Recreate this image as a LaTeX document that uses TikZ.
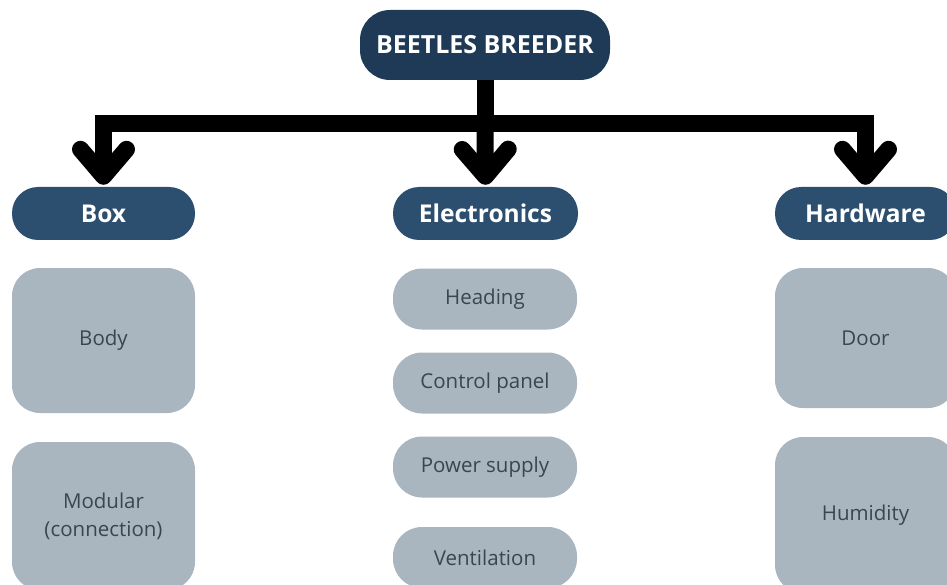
\documentclass[tikz,border=0pt]{standalone}
\usepackage{fontspec}
\setmainfont{Open Sans}
\usetikzlibrary{arrows.meta}
\definecolor{navy}{HTML}{1E3A57}
\definecolor{headblue}{HTML}{2D4F6F}
\definecolor{itemgray}{HTML}{A9B6C0}
\definecolor{itemtext}{HTML}{3B4550}
\begin{document}
\begin{tikzpicture}[x=1pt,y=-1pt,
  rootbox/.style={fill=navy, text=white, rounded corners=30pt, inner sep=0pt,
    minimum width=250pt, minimum height=70pt,
    font=\bfseries\fontsize{25}{29}\selectfont},
  headbox/.style={fill=headblue, text=white, rounded corners=26pt, inner sep=0pt,
    minimum height=53pt, font=\bfseries\fontsize{24.5}{28}\selectfont},
  itembox/.style={fill=itemgray, text=itemtext, inner sep=0pt, align=center,
    font=\fontsize{20.5}{28}\selectfont},
  tallbox/.style={itembox, rounded corners=28pt, minimum width=183pt},
  pillbox/.style={itembox, rounded corners=29pt, minimum width=184pt, minimum height=61pt},
  bus/.style={line width=17pt, line join=miter},
  drop/.style={bus, -{Straight Barb[length=27pt, width=46pt, round]}}
]
\useasboundingbox (0,0) rectangle (947,585);
\clip (0,0) rectangle (947,585);

% root and the three branches
\node[rootbox] (root) at (485,45) {BEETLES BREEDER};
\node[headbox, minimum width=183pt] (box)  at (103.5,213.5) {Box};
\node[headbox, minimum width=185pt] (elec) at (485.5,213.5) {Electronics};
\node[headbox, minimum width=181pt] (hw)   at (865.5,213.5) {Hardware};

% items under Box
\node[tallbox, minimum height=145pt] (body)    at (103.5,340.5) {Body};
\node[tallbox, minimum height=148pt] (modular) at (103.5,516) {Modular\\(connection)};

% items under Electronics
\node[pillbox] (heading) at (485,299)   {Heading};
\node[pillbox] (control) at (485,383)   {Control panel};
\node[pillbox] (power)   at (485,467)   {Power supply};
\node[pillbox] (vent)    at (485,557.5) {Ventilation};

% items under Hardware
\node[tallbox, minimum height=140pt, minimum width=181pt] (door)     at (865.5,338) {Door};
\node[tallbox, minimum height=156pt, minimum width=181pt] (humidity) at (865.5,515) {Humidity};

% connectors
\coordinate (split) at (485,124);
\draw[bus] (root.south) -- (split);
\draw[drop] (split) -| ([yshift=2pt]box.north);
\draw[drop] (split) -- ([yshift=2pt]elec.north);
\draw[drop] (split) -| ([yshift=2pt]hw.north);
\end{tikzpicture}
\end{document}
